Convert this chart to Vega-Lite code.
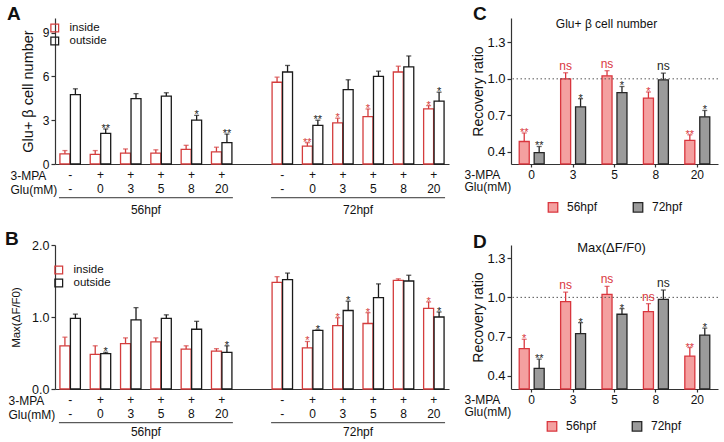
{
  "$schema": "https://vega.github.io/schema/vega-lite/v6.json",
  "padding": 5,
  "config": {
    "font": "Liberation Sans",
    "view": {"stroke": null},
    "axis": {"grid": false, "domainColor": "#333", "tickColor": "#333", "labelColor": "#111", "titleColor": "#111", "titleFontWeight": "normal", "domainWidth": 1.2, "tickWidth": 1.2, "labelFont": "Liberation Sans", "titleFont": "Liberation Sans"},
    "legend": {"labelColor": "#111", "labelFont": "Liberation Sans"},
    "title": {"color": "#111", "font": "Liberation Sans"}
  },
  "datasets": {
    "A": [
      {"cond": "56|-|-", "loc": "inside", "v": 0.7, "hi": 0.92, "sig": ""},
      {"cond": "56|-|-", "loc": "outside", "v": 4.75, "hi": 5.15, "sig": ""},
      {"cond": "56|+|0", "loc": "inside", "v": 0.66, "hi": 0.92, "sig": ""},
      {"cond": "56|+|0", "loc": "outside", "v": 2.1, "hi": 2.4, "sig": "**"},
      {"cond": "56|+|3", "loc": "inside", "v": 0.74, "hi": 1.03, "sig": ""},
      {"cond": "56|+|3", "loc": "outside", "v": 4.48, "hi": 4.82, "sig": ""},
      {"cond": "56|+|5", "loc": "inside", "v": 0.75, "hi": 0.97, "sig": ""},
      {"cond": "56|+|5", "loc": "outside", "v": 4.65, "hi": 4.88, "sig": ""},
      {"cond": "56|+|8", "loc": "inside", "v": 1.0, "hi": 1.28, "sig": ""},
      {"cond": "56|+|8", "loc": "outside", "v": 3.0, "hi": 3.33, "sig": "*"},
      {"cond": "56|+|20", "loc": "inside", "v": 0.83, "hi": 1.15, "sig": ""},
      {"cond": "56|+|20", "loc": "outside", "v": 1.46, "hi": 2.05, "sig": "**"},
      {"cond": "72|-|-", "loc": "inside", "v": 5.6, "hi": 5.95, "sig": ""},
      {"cond": "72|-|-", "loc": "outside", "v": 6.3, "hi": 6.75, "sig": ""},
      {"cond": "72|+|0", "loc": "inside", "v": 1.22, "hi": 1.46, "sig": "**"},
      {"cond": "72|+|0", "loc": "outside", "v": 2.65, "hi": 3.0, "sig": "**"},
      {"cond": "72|+|3", "loc": "inside", "v": 2.82, "hi": 3.14, "sig": "*"},
      {"cond": "72|+|3", "loc": "outside", "v": 5.1, "hi": 5.77, "sig": ""},
      {"cond": "72|+|5", "loc": "inside", "v": 3.25, "hi": 3.77, "sig": "*"},
      {"cond": "72|+|5", "loc": "outside", "v": 6.0, "hi": 6.36, "sig": ""},
      {"cond": "72|+|8", "loc": "inside", "v": 6.3, "hi": 6.7, "sig": ""},
      {"cond": "72|+|8", "loc": "outside", "v": 6.65, "hi": 7.4, "sig": ""},
      {"cond": "72|+|20", "loc": "inside", "v": 3.77, "hi": 4.0, "sig": "*"},
      {"cond": "72|+|20", "loc": "outside", "v": 4.3, "hi": 4.92, "sig": "*"}
    ],
    "B": [
      {"cond": "56|-|-", "loc": "inside", "v": 0.6, "hi": 0.72, "sig": ""},
      {"cond": "56|-|-", "loc": "outside", "v": 0.98, "hi": 1.04, "sig": ""},
      {"cond": "56|+|0", "loc": "inside", "v": 0.48, "hi": 0.6, "sig": ""},
      {"cond": "56|+|0", "loc": "outside", "v": 0.49, "hi": 0.51, "sig": "*"},
      {"cond": "56|+|3", "loc": "inside", "v": 0.63, "hi": 0.71, "sig": ""},
      {"cond": "56|+|3", "loc": "outside", "v": 0.96, "hi": 1.13, "sig": ""},
      {"cond": "56|+|5", "loc": "inside", "v": 0.655, "hi": 0.71, "sig": ""},
      {"cond": "56|+|5", "loc": "outside", "v": 0.98, "hi": 1.03, "sig": ""},
      {"cond": "56|+|8", "loc": "inside", "v": 0.555, "hi": 0.6, "sig": ""},
      {"cond": "56|+|8", "loc": "outside", "v": 0.83, "hi": 0.94, "sig": ""},
      {"cond": "56|+|20", "loc": "inside", "v": 0.525, "hi": 0.56, "sig": ""},
      {"cond": "56|+|20", "loc": "outside", "v": 0.51, "hi": 0.6, "sig": "*"},
      {"cond": "72|-|-", "loc": "inside", "v": 1.48, "hi": 1.56, "sig": ""},
      {"cond": "72|-|-", "loc": "outside", "v": 1.52, "hi": 1.61, "sig": ""},
      {"cond": "72|+|0", "loc": "inside", "v": 0.57, "hi": 0.66, "sig": "*"},
      {"cond": "72|+|0", "loc": "outside", "v": 0.815, "hi": 0.82, "sig": "*"},
      {"cond": "72|+|3", "loc": "inside", "v": 0.88, "hi": 0.99, "sig": "*"},
      {"cond": "72|+|3", "loc": "outside", "v": 1.09, "hi": 1.22, "sig": "*"},
      {"cond": "72|+|5", "loc": "inside", "v": 0.91, "hi": 1.06, "sig": "*"},
      {"cond": "72|+|5", "loc": "outside", "v": 1.27, "hi": 1.46, "sig": ""},
      {"cond": "72|+|8", "loc": "inside", "v": 1.51, "hi": 1.53, "sig": ""},
      {"cond": "72|+|8", "loc": "outside", "v": 1.5, "hi": 1.58, "sig": ""},
      {"cond": "72|+|20", "loc": "inside", "v": 1.12, "hi": 1.21, "sig": "*"},
      {"cond": "72|+|20", "loc": "outside", "v": 1.0, "hi": 1.07, "sig": "*"}
    ],
    "C": [
      {"cond": "+|0", "stage": "56hpf", "v": 0.485, "hi": 0.555, "sig": "**"},
      {"cond": "+|0", "stage": "72hpf", "v": 0.394, "hi": 0.444, "sig": "**"},
      {"cond": "+|3", "stage": "56hpf", "v": 1.0, "hi": 1.05, "sig": "ns"},
      {"cond": "+|3", "stage": "72hpf", "v": 0.77, "hi": 0.837, "sig": "*"},
      {"cond": "+|5", "stage": "56hpf", "v": 1.025, "hi": 1.067, "sig": "ns"},
      {"cond": "+|5", "stage": "72hpf", "v": 0.887, "hi": 0.937, "sig": "*"},
      {"cond": "+|8", "stage": "56hpf", "v": 0.842, "hi": 0.892, "sig": "*"},
      {"cond": "+|8", "stage": "72hpf", "v": 0.992, "hi": 1.047, "sig": "ns"},
      {"cond": "+|20", "stage": "56hpf", "v": 0.494, "hi": 0.54, "sig": "**"},
      {"cond": "+|20", "stage": "72hpf", "v": 0.688, "hi": 0.74, "sig": "*"}
    ],
    "D": [
      {"cond": "+|0", "stage": "56hpf", "v": 0.609, "hi": 0.68, "sig": "*"},
      {"cond": "+|0", "stage": "72hpf", "v": 0.457, "hi": 0.528, "sig": "**"},
      {"cond": "+|3", "stage": "56hpf", "v": 0.967, "hi": 1.04, "sig": "ns"},
      {"cond": "+|3", "stage": "72hpf", "v": 0.723, "hi": 0.807, "sig": "*"},
      {"cond": "+|5", "stage": "56hpf", "v": 1.023, "hi": 1.084, "sig": "ns"},
      {"cond": "+|5", "stage": "72hpf", "v": 0.871, "hi": 0.914, "sig": "*"},
      {"cond": "+|8", "stage": "56hpf", "v": 0.891, "hi": 0.952, "sig": "ns"},
      {"cond": "+|8", "stage": "72hpf", "v": 0.985, "hi": 1.056, "sig": "ns"},
      {"cond": "+|20", "stage": "56hpf", "v": 0.551, "hi": 0.617, "sig": "**"},
      {"cond": "+|20", "stage": "72hpf", "v": 0.711, "hi": 0.765, "sig": "*"}
    ],
    "groups": [
      {"grp": "56hpf", "from": "56|-|-", "to": "56|+|20", "mid": "56|+|5"},
      {"grp": "72hpf", "from": "72|-|-", "to": "72|+|20", "mid": "72|+|5"}
    ],
    "ref": [{"ratio": 1.0}]
  },
  "resolve": {
    "scale": {"x": "independent", "y": "independent", "xOffset": "independent", "stroke": "independent", "fill": "independent", "color": "independent"},
    "legend": {"stroke": "independent", "fill": "independent", "color": "independent"}
  },
  "concat": [
    {
      "width": 394, "height": 146,
      "title": {"text": "A", "anchor": "start", "fontSize": 19, "fontWeight": "bold", "offset": -6, "dx": -3},
      "layer": [
        {
          "data": {"name": "A"},
          "mark": {"type": "bar", "fill": "white", "strokeWidth": 1.3},
          "encoding": {
            "x": {"field": "cond", "type": "nominal", "sort": null,
              "scale": {"domain": ["56|-|-","56|+|0","56|+|3","56|+|5","56|+|8","56|+|20","gap","72|-|-","72|+|0","72|+|3","72|+|5","72|+|8","72|+|20"], "paddingInner": 0, "paddingOuter": 0},
              "axis": {"title": ["3-MPA", "Glu(mM)"], "titleFontSize": 12, "titleAlign": "left", "titleBaseline": "top", "titleX": -45, "titleY": 6, "titleLineHeight": 14,
                "labelExpr": "slice(split(datum.label,'|'),1)", "labelAngle": 0, "labelFontSize": 12, "labelLineHeight": 14, "labelPadding": 5, "ticks": false, "labelBaseline": "top"}},
            "xOffset": {"field": "loc", "type": "nominal", "scale": {"domain": ["inside", "outside"], "paddingInner": 0.05, "paddingOuter": 0.47}},
            "y": {"field": "v", "type": "quantitative", "scale": {"domain": [0, 10], "nice": false},
              "axis": {"values": [0, 3, 6, 9], "title": "Glu+ β cell number", "titleFontSize": 14.5, "titlePadding": 7, "tickSize": 4, "labelPadding": 2, "labelFontSize": 12}},
            "stroke": {"field": "loc", "type": "nominal", "scale": {"domain": ["inside", "outside"], "range": ["#d43d3d", "#1a1a1a"]},
              "legend": {"orient": "none", "legendX": -6, "legendY": 5, "title": null, "symbolType": "M-1,-1H1V1H-1Z M-0.72,-0.72V0.72H0.72V-0.72Z", "symbolSize": 81, "symbolStrokeWidth": 0, "labelFontSize": 11.5, "labelOffset": 9, "rowPadding": 1, "clipHeight": 10}}
          }
        },
        {
          "data": {"name": "A"},
          "mark": {"type": "rule", "strokeWidth": 1.3},
          "encoding": {
            "x": {"field": "cond", "type": "nominal"},
            "xOffset": {"field": "loc", "type": "nominal"},
            "y": {"field": "v", "type": "quantitative"},
            "y2": {"field": "hi"},
            "color": {"field": "loc", "type": "nominal", "scale": {"domain": ["inside", "outside"], "range": ["#d43d3d", "#1a1a1a"]}, "legend": null}
          }
        },
        {
          "data": {"name": "A"},
          "mark": {"type": "tick", "thickness": 1.3, "size": 5},
          "encoding": {
            "x": {"field": "cond", "type": "nominal"},
            "xOffset": {"field": "loc", "type": "nominal"},
            "y": {"field": "hi", "type": "quantitative"},
            "color": {"field": "loc", "type": "nominal", "scale": {"domain": ["inside", "outside"], "range": ["#d43d3d", "#1a1a1a"]}, "legend": null}
          }
        },
        {
          "data": {"name": "A"},
          "transform": [{"filter": "datum.sig != ''"}],
          "mark": {"type": "text", "fontSize": 11, "baseline": "alphabetic", "dy": 3},
          "encoding": {
            "x": {"field": "cond", "type": "nominal"},
            "xOffset": {"field": "loc", "type": "nominal"},
            "y": {"field": "hi", "type": "quantitative"},
            "text": {"field": "sig"},
            "color": {"field": "loc", "type": "nominal", "scale": {"domain": ["inside", "outside"], "range": ["#d43d3d", "#1a1a1a"]}, "legend": null}
          }
        },
        {
          "data": {"name": "groups"},
          "mark": {"type": "rule", "strokeWidth": 1, "color": "#333"},
          "encoding": {
            "x": {"field": "from", "type": "nominal", "bandPosition": 0.13},
            "x2": {"field": "to", "bandPosition": 0.87},
            "y": {"datum": -2.31}
          }
        },
        {
          "data": {"name": "groups"},
          "mark": {"type": "text", "fontSize": 12, "baseline": "middle", "color": "#111"},
          "encoding": {
            "x": {"field": "mid", "type": "nominal", "bandPosition": 0},
            "y": {"datum": -3.15},
            "text": {"field": "grp"}
          }
        }
      ]
    },
    {
      "width": 207, "height": 146,
      "title": {"text": "C", "anchor": "start", "fontSize": 19, "fontWeight": "bold", "offset": -6, "dx": 9},
      "layer": [
        {
          "data": {"name": "C"},
          "mark": {"type": "bar", "strokeWidth": 1.3},
          "encoding": {
            "x": {"field": "cond", "type": "nominal", "sort": null,
              "scale": {"domain": ["+|0", "+|3", "+|5", "+|8", "+|20"], "paddingInner": 0, "paddingOuter": 0},
              "axis": {"title": ["3-MPA", "Glu(mM)"], "titleFontSize": 12, "titleAlign": "left", "titleBaseline": "top", "titleX": -47, "titleY": 5, "titleLineHeight": 12.5,
                "labelExpr": "slice(split(datum.label,'|'),1)", "labelAngle": 0, "labelFontSize": 12, "labelLineHeight": 12.5, "labelPadding": 2, "tickSize": 3, "labelBaseline": "top"}},
            "xOffset": {"field": "stage", "type": "nominal", "scale": {"domain": ["56hpf", "72hpf"], "paddingInner": 0.33, "paddingOuter": 0.55}},
            "y": {"field": "v", "type": "quantitative", "scale": {"domain": [0.3, 1.5], "nice": false, "zero": false, "clamp": true},
              "axis": {"values": [0.4, 0.7, 1.0, 1.3], "format": ".1f", "title": "Recovery ratio", "titleFontSize": 14, "titlePadding": 1, "tickSize": 4, "labelPadding": 2, "labelFontSize": 13}},
            "fill": {"field": "stage", "type": "nominal", "scale": {"domain": ["56hpf", "72hpf"], "range": ["#f4a0a0", "#9b9b9b"]},
              "legend": {"orient": "none", "legendX": 36, "legendY": 183, "direction": "horizontal", "title": null, "symbolType": "square", "symbolSize": 90, "symbolStrokeWidth": 1.3, "labelFontSize": 12, "labelOffset": 8, "columnPadding": 32}},
            "stroke": {"field": "stage", "type": "nominal", "scale": {"domain": ["56hpf", "72hpf"], "range": ["#d9363e", "#262626"]}}
          }
        },
        {
          "data": {"name": "ref"},
          "mark": {"type": "rule", "strokeDash": [1.5, 2.5], "color": "#555", "strokeWidth": 1},
          "encoding": {"y": {"field": "ratio", "type": "quantitative"}}
        },
        {
          "data": {"name": "C"},
          "mark": {"type": "rule", "strokeWidth": 1.3},
          "encoding": {
            "x": {"field": "cond", "type": "nominal"},
            "xOffset": {"field": "stage", "type": "nominal"},
            "y": {"field": "v", "type": "quantitative"},
            "y2": {"field": "hi"},
            "color": {"field": "stage", "type": "nominal", "scale": {"domain": ["56hpf", "72hpf"], "range": ["#d9363e", "#262626"]}, "legend": null}
          }
        },
        {
          "data": {"name": "C"},
          "mark": {"type": "tick", "thickness": 1.3, "size": 5},
          "encoding": {
            "x": {"field": "cond", "type": "nominal"},
            "xOffset": {"field": "stage", "type": "nominal"},
            "y": {"field": "hi", "type": "quantitative"},
            "color": {"field": "stage", "type": "nominal", "scale": {"domain": ["56hpf", "72hpf"], "range": ["#d9363e", "#262626"]}, "legend": null}
          }
        },
        {
          "data": {"name": "C"},
          "transform": [{"filter": "datum.sig != 'ns'"}],
          "mark": {"type": "text", "fontSize": 11, "baseline": "alphabetic", "dy": 3},
          "encoding": {
            "x": {"field": "cond", "type": "nominal"},
            "xOffset": {"field": "stage", "type": "nominal"},
            "y": {"field": "hi", "type": "quantitative"},
            "text": {"field": "sig"},
            "color": {"field": "stage", "type": "nominal", "scale": {"domain": ["56hpf", "72hpf"], "range": ["#d9363e", "#262626"]}, "legend": null}
          }
        },
        {
          "data": {"name": "C"},
          "transform": [{"filter": "datum.sig == 'ns'"}],
          "mark": {"type": "text", "fontSize": 12, "baseline": "alphabetic", "dy": -3},
          "encoding": {
            "x": {"field": "cond", "type": "nominal"},
            "xOffset": {"field": "stage", "type": "nominal"},
            "y": {"field": "hi", "type": "quantitative"},
            "text": {"field": "sig"},
            "color": {"field": "stage", "type": "nominal", "scale": {"domain": ["56hpf", "72hpf"], "range": ["#d9363e", "#262626"]}, "legend": null}
          }
        },
        {
          "data": {"values": [{"t": "Glu+ β cell number"}]},
          "mark": {"type": "text", "fontSize": 12, "baseline": "middle", "dx": -8, "color": "#111"},
          "encoding": {
            "x": {"datum": "+|5", "type": "nominal"},
            "y": {"datum": 1.45, "type": "quantitative"},
            "text": {"field": "t"}
          }
        }
      ]
    },
    {
      "width": 394, "height": 144,
      "title": {"text": "B", "anchor": "start", "fontSize": 19, "fontWeight": "bold", "offset": -10, "dx": -3},
      "layer": [
        {
          "data": {"name": "B"},
          "mark": {"type": "bar", "fill": "white", "strokeWidth": 1.3},
          "encoding": {
            "x": {"field": "cond", "type": "nominal", "sort": null,
              "scale": {"domain": ["56|-|-","56|+|0","56|+|3","56|+|5","56|+|8","56|+|20","gap","72|-|-","72|+|0","72|+|3","72|+|5","72|+|8","72|+|20"], "paddingInner": 0, "paddingOuter": 0},
              "axis": {"title": ["3-MPA", "Glu(mM)"], "titleFontSize": 12, "titleAlign": "left", "titleBaseline": "top", "titleX": -47, "titleY": 6, "titleLineHeight": 14,
                "labelExpr": "slice(split(datum.label,'|'),1)", "labelAngle": 0, "labelFontSize": 12, "labelLineHeight": 14, "labelPadding": 5, "ticks": false, "labelBaseline": "top"}},
            "xOffset": {"field": "loc", "type": "nominal", "scale": {"domain": ["inside", "outside"], "paddingInner": 0.05, "paddingOuter": 0.47}},
            "y": {"field": "v", "type": "quantitative", "scale": {"domain": [0, 2], "nice": false},
              "axis": {"values": [0, 0.5, 1, 1.5, 2], "format": ".1f", "title": "Max(ΔF/F0)", "titleFontSize": 11.5, "titlePadding": 10, "tickSize": 4, "labelPadding": 2, "labelFontSize": 12.5}},
            "stroke": {"field": "loc", "type": "nominal", "scale": {"domain": ["inside", "outside"], "range": ["#d43d3d", "#1a1a1a"]},
              "legend": {"orient": "none", "legendX": -2, "legendY": 20, "title": null, "symbolType": "M-1,-1H1V1H-1Z M-0.72,-0.72V0.72H0.72V-0.72Z", "symbolSize": 81, "symbolStrokeWidth": 0, "labelFontSize": 11.5, "labelOffset": 9, "rowPadding": 1, "clipHeight": 10}}
          }
        },
        {
          "data": {"name": "B"},
          "mark": {"type": "rule", "strokeWidth": 1.3},
          "encoding": {
            "x": {"field": "cond", "type": "nominal"},
            "xOffset": {"field": "loc", "type": "nominal"},
            "y": {"field": "v", "type": "quantitative"},
            "y2": {"field": "hi"},
            "color": {"field": "loc", "type": "nominal", "scale": {"domain": ["inside", "outside"], "range": ["#d43d3d", "#1a1a1a"]}, "legend": null}
          }
        },
        {
          "data": {"name": "B"},
          "mark": {"type": "tick", "thickness": 1.3, "size": 5},
          "encoding": {
            "x": {"field": "cond", "type": "nominal"},
            "xOffset": {"field": "loc", "type": "nominal"},
            "y": {"field": "hi", "type": "quantitative"},
            "color": {"field": "loc", "type": "nominal", "scale": {"domain": ["inside", "outside"], "range": ["#d43d3d", "#1a1a1a"]}, "legend": null}
          }
        },
        {
          "data": {"name": "B"},
          "transform": [{"filter": "datum.sig != ''"}],
          "mark": {"type": "text", "fontSize": 11, "baseline": "alphabetic", "dy": 3},
          "encoding": {
            "x": {"field": "cond", "type": "nominal"},
            "xOffset": {"field": "loc", "type": "nominal"},
            "y": {"field": "hi", "type": "quantitative"},
            "text": {"field": "sig"},
            "color": {"field": "loc", "type": "nominal", "scale": {"domain": ["inside", "outside"], "range": ["#d43d3d", "#1a1a1a"]}, "legend": null}
          }
        },
        {
          "data": {"name": "groups"},
          "mark": {"type": "rule", "strokeWidth": 1, "color": "#333"},
          "encoding": {
            "x": {"field": "from", "type": "nominal", "bandPosition": 0.13},
            "x2": {"field": "to", "bandPosition": 0.87},
            "y": {"datum": -0.468}
          }
        },
        {
          "data": {"name": "groups"},
          "mark": {"type": "text", "fontSize": 12, "baseline": "middle", "color": "#111"},
          "encoding": {
            "x": {"field": "mid", "type": "nominal", "bandPosition": 0},
            "y": {"datum": -0.6},
            "text": {"field": "grp"}
          }
        }
      ]
    },
    {
      "width": 207, "height": 144,
      "title": {"text": "D", "anchor": "start", "fontSize": 19, "fontWeight": "bold", "offset": -10, "dx": 9},
      "layer": [
        {
          "data": {"name": "D"},
          "mark": {"type": "bar", "strokeWidth": 1.3},
          "encoding": {
            "x": {"field": "cond", "type": "nominal", "sort": null,
              "scale": {"domain": ["+|0", "+|3", "+|5", "+|8", "+|20"], "paddingInner": 0, "paddingOuter": 0},
              "axis": {"title": ["3-MPA", "Glu(mM)"], "titleFontSize": 12, "titleAlign": "left", "titleBaseline": "top", "titleX": -47, "titleY": 5, "titleLineHeight": 12.5,
                "labelExpr": "slice(split(datum.label,'|'),1)", "labelAngle": 0, "labelFontSize": 12, "labelLineHeight": 12.5, "labelPadding": 2, "tickSize": 3, "labelBaseline": "top"}},
            "xOffset": {"field": "stage", "type": "nominal", "scale": {"domain": ["56hpf", "72hpf"], "paddingInner": 0.33, "paddingOuter": 0.55}},
            "y": {"field": "v", "type": "quantitative", "scale": {"domain": [0.3, 1.4], "nice": false, "zero": false, "clamp": true},
              "axis": {"values": [0.4, 0.7, 1.0, 1.3], "format": ".1f", "title": "Recovery ratio", "titleFontSize": 14, "titlePadding": 1, "tickSize": 4, "labelPadding": 2, "labelFontSize": 13}},
            "fill": {"field": "stage", "type": "nominal", "scale": {"domain": ["56hpf", "72hpf"], "range": ["#f4a0a0", "#9b9b9b"]},
              "legend": {"orient": "none", "legendX": 35, "legendY": 175, "direction": "horizontal", "title": null, "symbolType": "square", "symbolSize": 90, "symbolStrokeWidth": 1.3, "labelFontSize": 12, "labelOffset": 8, "columnPadding": 32}},
            "stroke": {"field": "stage", "type": "nominal", "scale": {"domain": ["56hpf", "72hpf"], "range": ["#d9363e", "#262626"]}}
          }
        },
        {
          "data": {"name": "ref"},
          "mark": {"type": "rule", "strokeDash": [1.5, 2.5], "color": "#555", "strokeWidth": 1},
          "encoding": {"y": {"field": "ratio", "type": "quantitative"}}
        },
        {
          "data": {"name": "D"},
          "mark": {"type": "rule", "strokeWidth": 1.3},
          "encoding": {
            "x": {"field": "cond", "type": "nominal"},
            "xOffset": {"field": "stage", "type": "nominal"},
            "y": {"field": "v", "type": "quantitative"},
            "y2": {"field": "hi"},
            "color": {"field": "stage", "type": "nominal", "scale": {"domain": ["56hpf", "72hpf"], "range": ["#d9363e", "#262626"]}, "legend": null}
          }
        },
        {
          "data": {"name": "D"},
          "mark": {"type": "tick", "thickness": 1.3, "size": 5},
          "encoding": {
            "x": {"field": "cond", "type": "nominal"},
            "xOffset": {"field": "stage", "type": "nominal"},
            "y": {"field": "hi", "type": "quantitative"},
            "color": {"field": "stage", "type": "nominal", "scale": {"domain": ["56hpf", "72hpf"], "range": ["#d9363e", "#262626"]}, "legend": null}
          }
        },
        {
          "data": {"name": "D"},
          "transform": [{"filter": "datum.sig != 'ns'"}],
          "mark": {"type": "text", "fontSize": 11, "baseline": "alphabetic", "dy": 3},
          "encoding": {
            "x": {"field": "cond", "type": "nominal"},
            "xOffset": {"field": "stage", "type": "nominal"},
            "y": {"field": "hi", "type": "quantitative"},
            "text": {"field": "sig"},
            "color": {"field": "stage", "type": "nominal", "scale": {"domain": ["56hpf", "72hpf"], "range": ["#d9363e", "#262626"]}, "legend": null}
          }
        },
        {
          "data": {"name": "D"},
          "transform": [{"filter": "datum.sig == 'ns'"}],
          "mark": {"type": "text", "fontSize": 12, "baseline": "alphabetic", "dy": -3},
          "encoding": {
            "x": {"field": "cond", "type": "nominal"},
            "xOffset": {"field": "stage", "type": "nominal"},
            "y": {"field": "hi", "type": "quantitative"},
            "text": {"field": "sig"},
            "color": {"field": "stage", "type": "nominal", "scale": {"domain": ["56hpf", "72hpf"], "range": ["#d9363e", "#262626"]}, "legend": null}
          }
        },
        {
          "data": {"values": [{"t": "Max(ΔF/F0)"}]},
          "mark": {"type": "text", "fontSize": 13, "baseline": "middle", "dx": -3, "color": "#111"},
          "encoding": {
            "x": {"datum": "+|5", "type": "nominal"},
            "y": {"datum": 1.377, "type": "quantitative"},
            "text": {"field": "t"}
          }
        }
      ]
    }
  ],
  "columns": 2,
  "align": "each",
  "spacing": {"row": 14, "column": 15}
}
